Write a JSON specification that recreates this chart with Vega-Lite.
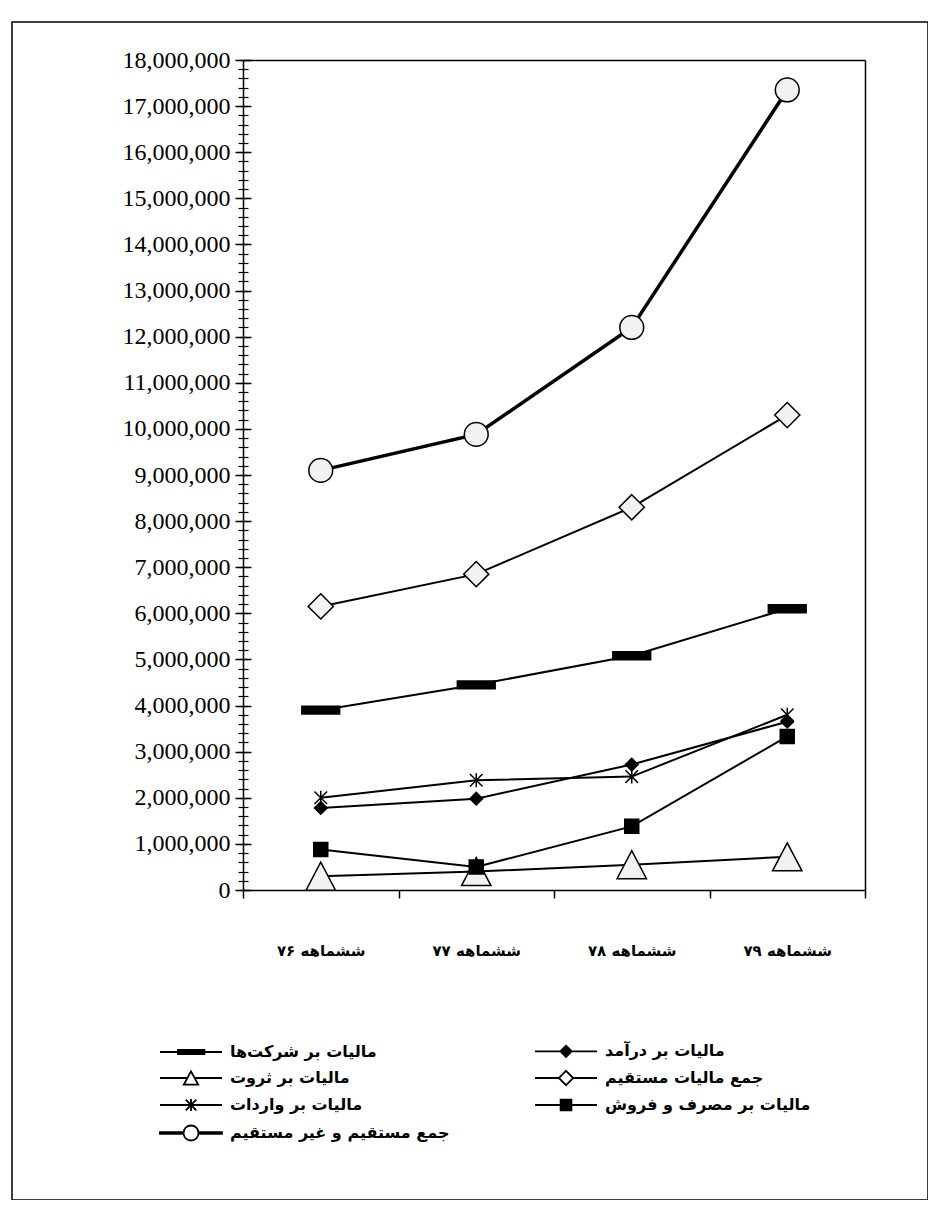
{
  "$schema": "https://vega.github.io/schema/vega-lite/v6.json",
  "autosize": "none",
  "padding": {"left": 12, "top": 22, "right": 0, "bottom": 0},
  "width": 916,
  "height": 1178,
  "background": "white",
  "config": {
    "view": {"stroke": "black", "strokeWidth": 1.5},
    "axis": {"domainColor": "black", "tickColor": "black", "labelColor": "black", "domainWidth": 1.5, "tickWidth": 1.5, "grid": false, "title": null}
  },
  "data": {
    "values": [
      {"p": "۷۶ ششماهه", "s": "مالیات بر شرکت‌ها", "v": 3900000},
      {"p": "۷۷ ششماهه", "s": "مالیات بر شرکت‌ها", "v": 4450000},
      {"p": "۷۸ ششماهه", "s": "مالیات بر شرکت‌ها", "v": 5080000},
      {"p": "۷۹ ششماهه", "s": "مالیات بر شرکت‌ها", "v": 6100000},
      {"p": "۷۶ ششماهه", "s": "مالیات بر درآمد", "v": 1780000},
      {"p": "۷۷ ششماهه", "s": "مالیات بر درآمد", "v": 1980000},
      {"p": "۷۸ ششماهه", "s": "مالیات بر درآمد", "v": 2720000},
      {"p": "۷۹ ششماهه", "s": "مالیات بر درآمد", "v": 3650000},
      {"p": "۷۶ ششماهه", "s": "مالیات بر ثروت", "v": 300000},
      {"p": "۷۷ ششماهه", "s": "مالیات بر ثروت", "v": 400000},
      {"p": "۷۸ ششماهه", "s": "مالیات بر ثروت", "v": 550000},
      {"p": "۷۹ ششماهه", "s": "مالیات بر ثروت", "v": 720000},
      {"p": "۷۶ ششماهه", "s": "جمع مالیات مستقیم", "v": 6150000},
      {"p": "۷۷ ششماهه", "s": "جمع مالیات مستقیم", "v": 6850000},
      {"p": "۷۸ ششماهه", "s": "جمع مالیات مستقیم", "v": 8300000},
      {"p": "۷۹ ششماهه", "s": "جمع مالیات مستقیم", "v": 10300000},
      {"p": "۷۶ ششماهه", "s": "مالیات بر واردات", "v": 2000000},
      {"p": "۷۷ ششماهه", "s": "مالیات بر واردات", "v": 2380000},
      {"p": "۷۸ ششماهه", "s": "مالیات بر واردات", "v": 2460000},
      {"p": "۷۹ ششماهه", "s": "مالیات بر واردات", "v": 3800000},
      {"p": "۷۶ ششماهه", "s": "مالیات بر مصرف و فروش", "v": 880000},
      {"p": "۷۷ ششماهه", "s": "مالیات بر مصرف و فروش", "v": 500000},
      {"p": "۷۸ ششماهه", "s": "مالیات بر مصرف و فروش", "v": 1380000},
      {"p": "۷۹ ششماهه", "s": "مالیات بر مصرف و فروش", "v": 3330000},
      {"p": "۷۶ ششماهه", "s": "جمع مستقیم و غیر مستقیم", "v": 9100000},
      {"p": "۷۷ ششماهه", "s": "جمع مستقیم و غیر مستقیم", "v": 9880000},
      {"p": "۷۸ ششماهه", "s": "جمع مستقیم و غیر مستقیم", "v": 12200000},
      {"p": "۷۹ ششماهه", "s": "جمع مستقیم و غیر مستقیم", "v": 17350000}
    ]
  },
  "layer": [
    {
      "transform": [{"filter": "datum.s !== 'جمع مستقیم و غیر مستقیم'"}],
      "mark": {"type": "line", "stroke": "black", "strokeWidth": 2},
      "encoding": {
        "x": {"field": "p", "type": "nominal",
          "scale": {"type": "band", "domain": ["۷۶ ششماهه", "۷۷ ششماهه", "۷۸ ششماهه", "۷۹ ششماهه"], "range": [231, 853], "paddingInner": 0, "paddingOuter": 0},
          "axis": {"orient": "bottom", "offset": -310, "tickBand": "extent", "tickSize": 8, "labelPadding": 45, "labelFont": "DejaVu Sans", "labelFontSize": 15, "labelFontWeight": "bold", "labelAngle": 0, "domain": true}},
        "y": {"field": "v", "type": "quantitative",
          "scale": {"domain": [0, 18000000], "range": [868, 38], "nice": false, "zero": true},
          "axis": {"orient": "left", "offset": -239, "domain": false, "tickSize": 16, "values": [0, 1000000, 2000000, 3000000, 4000000, 5000000, 6000000, 7000000, 8000000, 9000000, 10000000, 11000000, 12000000, 13000000, 14000000, 15000000, 16000000, 17000000, 18000000], "format": ",d", "labelFont": "Liberation Serif", "labelFontSize": 24, "labelPadding": 5}},
        "detail": {"field": "s"}
      }
    },
    {
      "transform": [{"filter": "datum.s === 'جمع مستقیم و غیر مستقیم'"}],
      "mark": {"type": "line", "stroke": "black", "strokeWidth": 3.5},
      "encoding": {
        "x": {"field": "p", "type": "nominal",
          "scale": {"type": "band", "domain": ["۷۶ ششماهه", "۷۷ ششماهه", "۷۸ ششماهه", "۷۹ ششماهه"], "range": [231, 853], "paddingInner": 0, "paddingOuter": 0},
          "axis": {"orient": "top", "offset": -38, "domain": true, "ticks": false, "labels": false}},
        "y": {"field": "v", "type": "quantitative",
          "scale": {"domain": [0, 18000000], "range": [868, 38], "nice": false, "zero": true},
          "axis": {"orient": "left", "offset": -236, "domain": false, "tickSize": 10, "tickWidth": 1.2, "tickCount": 90, "labels": false}}
      }
    },
    {
      "mark": {"type": "point", "filled": true, "stroke": "black", "strokeWidth": 1.5, "size": 784, "opacity": 1},
      "encoding": {
        "x": {"field": "p", "type": "nominal",
          "scale": {"type": "band", "domain": ["۷۶ ششماهه", "۷۷ ششماهه", "۷۸ ششماهه", "۷۹ ششماهه"], "range": [231, 853], "paddingInner": 0, "paddingOuter": 0},
          "axis": null},
        "y": {"field": "v", "type": "quantitative",
          "scale": {"domain": [0, 18000000], "range": [868, 38], "nice": false, "zero": true},
          "axis": {"orient": "left", "offset": -231, "domain": true, "ticks": false, "labels": false}},
        "shape": {"field": "s", "type": "nominal", "legend": null,
          "scale": {"domain": ["مالیات بر شرکت‌ها", "مالیات بر درآمد", "مالیات بر ثروت", "جمع مالیات مستقیم", "مالیات بر واردات", "مالیات بر مصرف و فروش", "جمع مستقیم و غیر مستقیم"],
            "range": [
              "M-1.35,-0.28H1.35V0.28H-1.35Z",
              "M0,-0.45L0.45,0L0,0.45L-0.45,0Z",
              "M0,-1L1.05,1H-1.05Z",
              "M0,-0.9L0.9,0L0,0.9L-0.9,0Z",
              "M0,-0.5V0.5M-0.45,-0.45L0.45,0.45M-0.45,0.45L0.45,-0.45",
              "M-0.5,-0.5H0.5V0.5H-0.5Z",
              "M0.85,0A0.85,0.85 0 1,1 -0.85,0A0.85,0.85 0 1,1 0.85,0Z"
            ]}},
        "fill": {"field": "s", "type": "nominal", "legend": null,
          "scale": {"domain": ["مالیات بر شرکت‌ها", "مالیات بر درآمد", "مالیات بر ثروت", "جمع مالیات مستقیم", "مالیات بر واردات", "مالیات بر مصرف و فروش", "جمع مستقیم و غیر مستقیم"],
            "range": ["black", "black", "#f2f2f2", "#f2f2f2", "black", "black", "#f2f2f2"]}}
      }
    },
    {
      "transform": [{"filter": "datum.v < 0"}],
      "mark": {"type": "point", "filled": true, "strokeWidth": 1.8, "size": 144, "opacity": 1},
      "encoding": {
        "x": {"field": "p", "type": "nominal",
          "scale": {"type": "band", "domain": ["۷۶ ششماهه", "۷۷ ششماهه", "۷۸ ششماهه", "۷۹ ششماهه"], "range": [231, 853], "paddingInner": 0, "paddingOuter": 0},
          "axis": null},
        "y": {"field": "v", "type": "quantitative",
          "scale": {"domain": [0, 18000000], "range": [868, 38], "nice": false, "zero": true},
          "axis": {"orient": "right", "offset": -63, "domain": true, "ticks": false, "labels": false}},
        "shape": {"field": "s", "type": "nominal",
          "scale": {"domain": ["مالیات بر شرکت‌ها", "مالیات بر ثروت", "مالیات بر واردات", "جمع مستقیم و غیر مستقیم", "مالیات بر درآمد", "جمع مالیات مستقیم", "مالیات بر مصرف و فروش"],
            "range": [
              "M-1,0H9.33M2,-0.35H6.4V0.35H2Z",
              "M-1,0H3.57M4.77,0H9.33M4.17,-1.1L5.37,1.1H2.97Z",
              "M-1,0H9.33M4.17,-1V1M3.3,-0.9L5.04,0.9M3.3,0.9L5.04,-0.9",
              "M-1,-0.15H2.92V0.15H-1ZM5.42,-0.15H9.33V0.15H5.42ZM5.42,0A1.25,1.25 0 1,1 2.92,0A1.25,1.25 0 1,1 5.42,0Z",
              "M-1,0H9.33M4.17,-0.95L5.12,0L4.17,0.95L3.22,0Z",
              "M-1,0H2.97M5.37,0H9.33M4.17,-1.2L5.37,0L4.17,1.2L2.97,0Z",
              "M-1,0H9.33M3.27,-0.9H5.07V0.9H3.27Z"
            ]},
          "legend": {"orient": "none", "legendX": 146, "legendY": 1021, "columns": 2, "columnPadding": 81, "rowPadding": 6, "title": null, "labelFont": "DejaVu Sans", "labelFontSize": 16, "labelFontWeight": "bold", "labelColor": "black", "labelLimit": 400, "labelOffset": 56, "symbolSize": 144, "symbolStrokeWidth": 1.8, "padding": 0}},
        "fill": {"field": "s", "type": "nominal",
          "scale": {"domain": ["مالیات بر شرکت‌ها", "مالیات بر ثروت", "مالیات بر واردات", "جمع مستقیم و غیر مستقیم", "مالیات بر درآمد", "جمع مالیات مستقیم", "مالیات بر مصرف و فروش"],
            "range": ["black", "white", "black", "white", "black", "white", "black"]},
          "legend": {"orient": "none", "legendX": 146, "legendY": 1021, "columns": 2, "columnPadding": 81, "rowPadding": 6, "title": null, "labelFont": "DejaVu Sans", "labelFontSize": 16, "labelFontWeight": "bold", "labelColor": "black", "labelLimit": 400, "labelOffset": 56, "symbolSize": 144, "symbolStrokeWidth": 1.8, "padding": 0}},
        "stroke": {"field": "s", "type": "nominal",
          "scale": {"domain": ["مالیات بر شرکت‌ها", "مالیات بر ثروت", "مالیات بر واردات", "جمع مستقیم و غیر مستقیم", "مالیات بر درآمد", "جمع مالیات مستقیم", "مالیات بر مصرف و فروش"],
            "range": ["black", "black", "black", "black", "black", "black", "black"]},
          "legend": {"orient": "none", "legendX": 146, "legendY": 1021, "columns": 2, "columnPadding": 81, "rowPadding": 6, "title": null, "labelFont": "DejaVu Sans", "labelFontSize": 16, "labelFontWeight": "bold", "labelColor": "black", "labelLimit": 400, "labelOffset": 56, "symbolSize": 144, "symbolStrokeWidth": 1.8, "padding": 0}}
      }
    }
  ],
  "resolve": {
    "axis": {"x": "independent", "y": "independent"},
    "scale": {"shape": "independent", "fill": "independent", "stroke": "independent"}
  }
}
